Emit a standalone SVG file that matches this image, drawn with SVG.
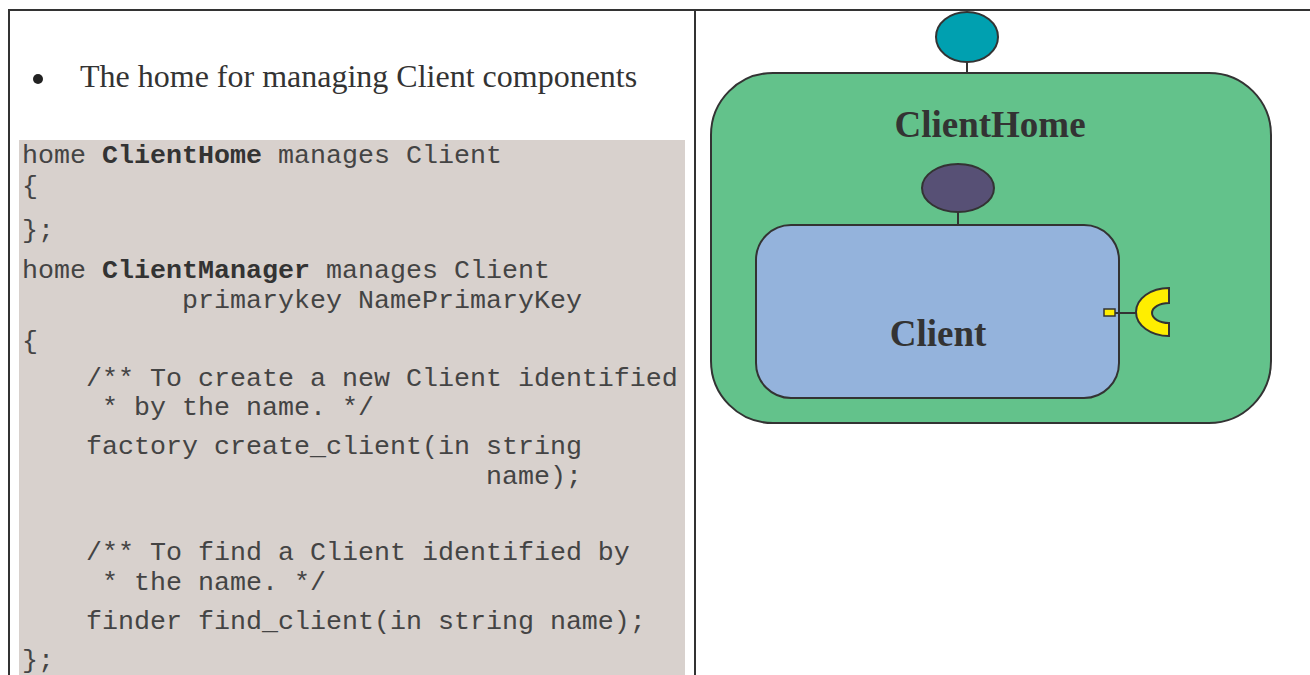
<svg xmlns="http://www.w3.org/2000/svg" width="1310" height="675" viewBox="0 0 1310 675">
  <style>
    .rule { stroke: #333333; stroke-width: 2; fill: none; }
    .lead { font-family: "Liberation Serif", "Times New Roman", serif; font-size: 32px; fill: #333333; }
    .code { font-family: "Liberation Mono", "Courier New", monospace; font-size: 26.67px; fill: #444444; white-space: pre; }
    .code .kw { font-weight: bold; fill: #333333; }
    .edge { stroke: #333333; stroke-width: 2; }
    .title { font-family: "Liberation Serif", "Times New Roman", serif; font-weight: bold; font-size: 37px; fill: #333333; text-anchor: middle; }
  </style>

  <rect width="1310" height="675" fill="#ffffff"/>

  <!-- table frame -->
  <g id="table">
    <line class="rule" x1="8" y1="10" x2="1310" y2="10"/>
    <line class="rule" x1="9" y1="9" x2="9" y2="675"/>
    <line class="rule" x1="695" y1="9" x2="695" y2="675"/>
  </g>

  <!-- left cell: description and IDL listing -->
  <g id="description">
    <circle cx="38" cy="79" r="5" fill="#222222"/>
    <text class="lead" x="80" y="87">The home for managing Client components</text>
  </g>

  <g id="idl-listing">
    <rect x="19" y="140" width="666" height="535" fill="#d8d1cd"/>
    <text class="code" xml:space="preserve">
      <tspan x="22" y="163">home <tspan class="kw">ClientHome</tspan> manages Client</tspan>
      <tspan x="22" y="194">{</tspan>
      <tspan x="22" y="238">};</tspan>
      <tspan x="22" y="278">home <tspan class="kw">ClientManager</tspan> manages Client</tspan>
      <tspan x="22" y="308">          primarykey NamePrimaryKey</tspan>
      <tspan x="22" y="349">{</tspan>
      <tspan x="22" y="386">    /** To create a new Client identified</tspan>
      <tspan x="22" y="415">     * by the name. */</tspan>
      <tspan x="22" y="454">    factory create_client(in string</tspan>
      <tspan x="22" y="484">                             name);</tspan>
      <tspan x="22" y="560">    /** To find a Client identified by</tspan>
      <tspan x="22" y="590">     * the name. */</tspan>
      <tspan x="22" y="629">    finder find_client(in string name);</tspan>
      <tspan x="22" y="668">};</tspan>
    </text>
  </g>

  <!-- home container -->
  <g id="client-home">
    <rect x="711" y="73" width="560" height="350" rx="62" ry="62" fill="#63c28b" stroke="#333333" stroke-width="2"/>
    <text class="title" x="990" y="137">ClientHome</text>
  </g>

  <g id="home-facet">
    <ellipse cx="967" cy="37" rx="31" ry="25" fill="#00a0b0" stroke="#333333" stroke-width="2"/>
  </g>

  <g id="component-facet">
    <ellipse cx="958" cy="188" rx="36" ry="24" fill="#575075" stroke="#333333" stroke-width="2"/>
  </g>

  <!-- managed component -->
  <g id="client">
    <rect x="756" y="225" width="363" height="173" rx="35" ry="35" fill="#94b3dc" stroke="#333333" stroke-width="2"/>
    <text class="title" x="938" y="346">Client</text>
  </g>

  <g id="receptacle">
    <rect x="1104" y="309" width="11" height="7" fill="#ffee00" stroke="#333333" stroke-width="1.5"/>
    <path d="M1169,288 A33,24 0 0 0 1169,336 L1169,323 A17,10 0 0 1 1169,303 Z" fill="#ffee00" stroke="#333333" stroke-width="2"/>
  </g>

  <!-- connectors: port stems -->
  <g id="connectors">
    <line class="edge" x1="967" y1="62" x2="967" y2="73"/>
    <line class="edge" x1="958" y1="212" x2="958" y2="225"/>
    <line class="edge" x1="1115" y1="313" x2="1136" y2="313"/>
  </g>
</svg>
